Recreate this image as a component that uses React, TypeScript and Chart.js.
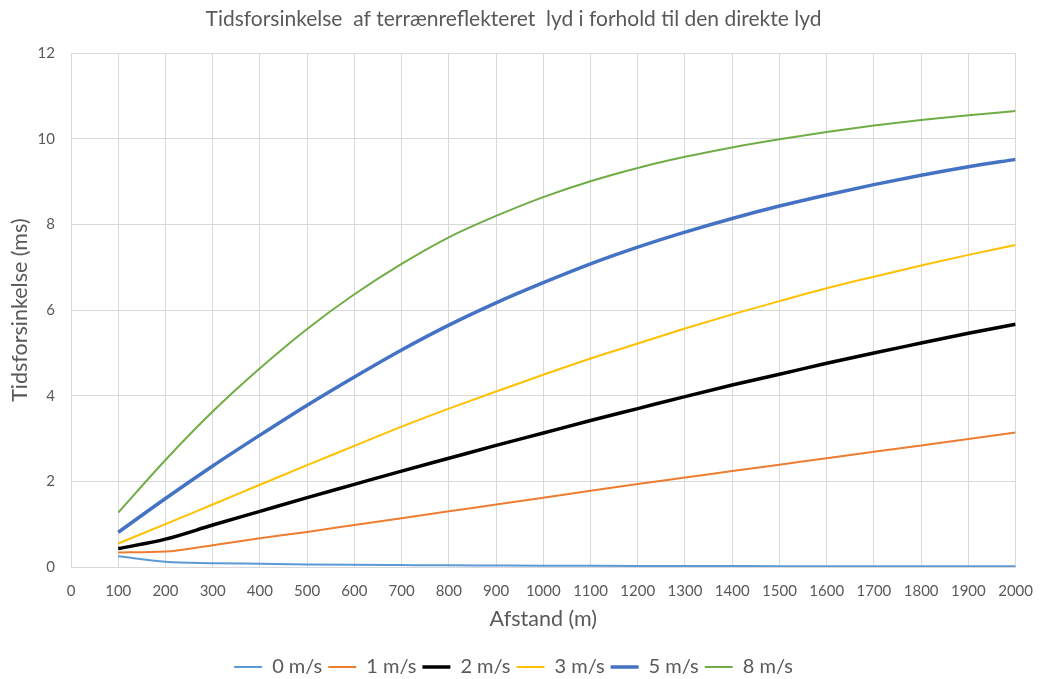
import React, { useEffect, useRef } from "react";
import { Chart, registerables } from "chart.js";

Chart.register(...registerables);

const distances = [100, 200, 300, 400, 500, 600, 700, 800, 900, 1000, 1100, 1200, 1300, 1400, 1500, 1600, 1700, 1800, 1900, 2000];

const wind0 = [0.25, 0.12, 0.09, 0.075, 0.06, 0.05, 0.044, 0.038, 0.034, 0.03, 0.028, 0.026, 0.024, 0.022, 0.02, 0.019, 0.018, 0.017, 0.016, 0.015];
const wind1 = [0.34, 0.36, 0.51, 0.67, 0.82, 0.98, 1.14, 1.3, 1.46, 1.62, 1.78, 1.94, 2.09, 2.24, 2.39, 2.54, 2.69, 2.84, 2.99, 3.14];
const wind2 = [0.43, 0.65, 0.98, 1.3, 1.62, 1.93, 2.24, 2.54, 2.84, 3.13, 3.42, 3.7, 3.98, 4.25, 4.5, 4.76, 5.0, 5.23, 5.46, 5.67];
const wind3 = [0.55, 1.0, 1.46, 1.92, 2.38, 2.83, 3.28, 3.7, 4.1, 4.49, 4.87, 5.22, 5.57, 5.9, 6.21, 6.51, 6.78, 7.04, 7.29, 7.52];
const wind5 = [0.81, 1.6, 2.36, 3.08, 3.78, 4.44, 5.07, 5.65, 6.17, 6.64, 7.08, 7.47, 7.82, 8.14, 8.43, 8.69, 8.93, 9.15, 9.35, 9.52];
const wind8 = [1.27, 2.5, 3.63, 4.64, 5.56, 6.37, 7.08, 7.7, 8.2, 8.64, 9.01, 9.32, 9.58, 9.8, 9.99, 10.16, 10.31, 10.44, 10.55, 10.65];

const seriesLabels = ["0 m/s", "1 m/s", "2 m/s", "3 m/s", "5 m/s", "8 m/s"];
const seriesValues = [wind0, wind1, wind2, wind3, wind5, wind8];
const seriesColors = ["#5B9BD5", "#ED7D31", "#000000", "#FFC000", "#4472C4", "#70AD47"];
const seriesWidths = [2, 2, 3.5, 2, 3.5, 2];

const chartTitle = "Tidsforsinkelse  af terrænreflekteret  lyd i forhold til den direkte lyd";
const xTitle = "Afstand (m)";
const yTitle = "Tidsforsinkelse (ms)";

const FONT = "Lato, 'Open Sans', sans-serif";
const TEXT = "#595959";
const GRID = "#d9d9d9";
const BOTTOM_PAD = -8;
const PLOT_BOTTOM = 567;

export default function App() {
  const ref = useRef<HTMLCanvasElement | null>(null);

  useEffect(() => {
    document.body.style.margin = "0";
    if (!ref.current) return;
    const chart = new Chart(ref.current, {
      type: "line",
      data: {
        datasets: seriesLabels.map((label, i) => ({
          label,
          data: distances.map((d, j) => ({ x: d, y: seriesValues[i][j] })),
          borderColor: seriesColors[i],
          backgroundColor: seriesColors[i],
          borderWidth: seriesWidths[i],
          pointRadius: 0,
          cubicInterpolationMode: "monotone",
          fill: false,
        })),
      },
      options: {
        animation: false,
        responsive: false,
        maintainAspectRatio: false,
        layout: { padding: { left: 0, right: 21, top: 0, bottom: BOTTOM_PAD } },
        plugins: {
          title: {
            display: true,
            text: chartTitle,
            color: TEXT,
            font: { family: FONT, size: 21, weight: "normal" },
            padding: { top: 7, bottom: 21 },
          },
          legend: {
            position: "bottom",
            labels: {
              usePointStyle: true,
              pointStyle: "line",
              pointStyleWidth: 28,
              color: TEXT,
              font: { family: FONT, size: 20 },
              padding: 6,
            },
          },
          tooltip: { enabled: false },
        },
        scales: {
          x: {
            type: "linear",
            min: 0,
            max: 2000,
            ticks: {
              stepSize: 100,
              color: TEXT,
              font: { family: FONT, size: 15 },
              padding: 15,
              maxRotation: 0,
              autoSkip: false,
              callback: (v: any) => String(v),
            },
            grid: { color: GRID, drawTicks: false },
            border: { color: GRID },
            title: {
              display: true,
              text: xTitle,
              color: TEXT,
              font: { family: FONT, size: 21.5 },
              padding: { top: 0, bottom: 19 },
            },
            afterFit: (scale: any) => {
              const c = scale.chart;
              const lh = c.legend ? c.legend.height : 0;
              scale.height = c.height - BOTTOM_PAD - lh - PLOT_BOTTOM;
            },
          },
          y: {
            min: 0,
            max: 12,
            ticks: {
              stepSize: 2,
              color: TEXT,
              font: { family: FONT, size: 15 },
              padding: 16,
            },
            grid: { color: GRID, drawTicks: false },
            border: { color: GRID },
            title: {
              display: true,
              text: yTitle,
              color: TEXT,
              font: { family: FONT, size: 21.5 },
              padding: { top: 7, bottom: 0 },
            },
            afterFit: (scale: any) => {
              scale.width = 71;
            },
          },
        },
      },
    });
    return () => chart.destroy();
  }, []);

  return (
    <div style={{ width: 1048, height: 679, background: "#fff" }}>
      <canvas ref={ref} width={1048} height={679} style={{ display: "block" }} />
    </div>
  );
}
